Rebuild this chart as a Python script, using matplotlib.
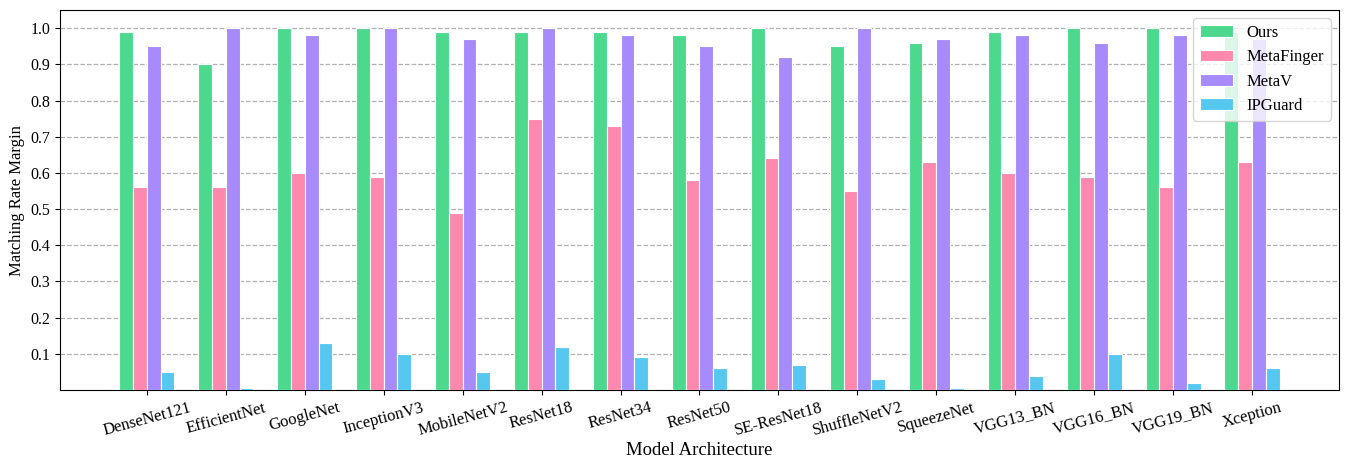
import numpy as np
import matplotlib
matplotlib.use("Agg")
import matplotlib.pyplot as plt

plt.rcParams['font.family'] = ['Liberation Serif', 'DejaVu Serif']

models = ["DenseNet121", "EfficientNet", "GoogleNet", "InceptionV3", "MobileNetV2",
          "ResNet18", "ResNet34", "ResNet50", "SE-ResNet18", "ShuffleNetV2",
          "SqueezeNet", "VGG13_BN", "VGG16_BN", "VGG19_BN", "Xception"]
ours       = [0.99, 0.90, 1.00, 1.00, 0.99, 0.99, 0.99, 0.98, 1.00, 0.95, 0.96, 0.99, 1.00, 1.00, 0.99]
metafinger = [0.56, 0.56, 0.60, 0.59, 0.49, 0.75, 0.73, 0.58, 0.64, 0.55, 0.63, 0.60, 0.59, 0.56, 0.63]
metav      = [0.95, 1.00, 0.98, 1.00, 0.97, 1.00, 0.98, 0.95, 0.92, 1.00, 0.97, 0.98, 0.96, 0.98, 0.97]
ipguard    = [0.05, 0.006, 0.13, 0.10, 0.05, 0.12, 0.09, 0.06, 0.07, 0.03, 0.006, 0.04, 0.10, 0.02, 0.06]

series = [("Ours", ours, "#4cd98e"),
          ("MetaFinger", metafinger, "#ff88ae"),
          ("MetaV", metav, "#a78bfa"),
          ("IPGuard", ipguard, "#56c8ef")]

fig, ax = plt.subplots(figsize=(13.45, 4.61), dpi=100)
fig.subplots_adjust(left=0.0446, right=0.9955, top=0.978, bottom=0.154)

x = np.arange(len(models))
width = 0.175
for i, (name, vals, color) in enumerate(series):
    ax.bar(x + (i - 1.5) * width, vals, width, label=name, color=color,
           edgecolor="white", linewidth=0.8, zorder=3)

ax.set_xlim(-1.1, 15.1)
ax.set_ylim(0, 1.05)
yticks = np.arange(0.1, 1.01, 0.1)
ax.set_yticks(yticks)
ax.set_yticklabels([f"{v:.1f}" for v in yticks], fontsize=11.5)
ax.set_xticks(x)
ax.set_xticklabels(models, rotation=15, fontsize=12)
ax.grid(axis="y", linestyle="--", color="#b0b0b0", linewidth=0.9, zorder=0)
ax.set_axisbelow(True)
ax.set_xlabel("Model Architecture", fontsize=13.5, labelpad=2)
ax.set_ylabel("Matching Rate Margin", fontsize=12)
ax.legend(loc="upper right", fontsize=12, framealpha=0.8)

fig.savefig("out.png", dpi=100)
